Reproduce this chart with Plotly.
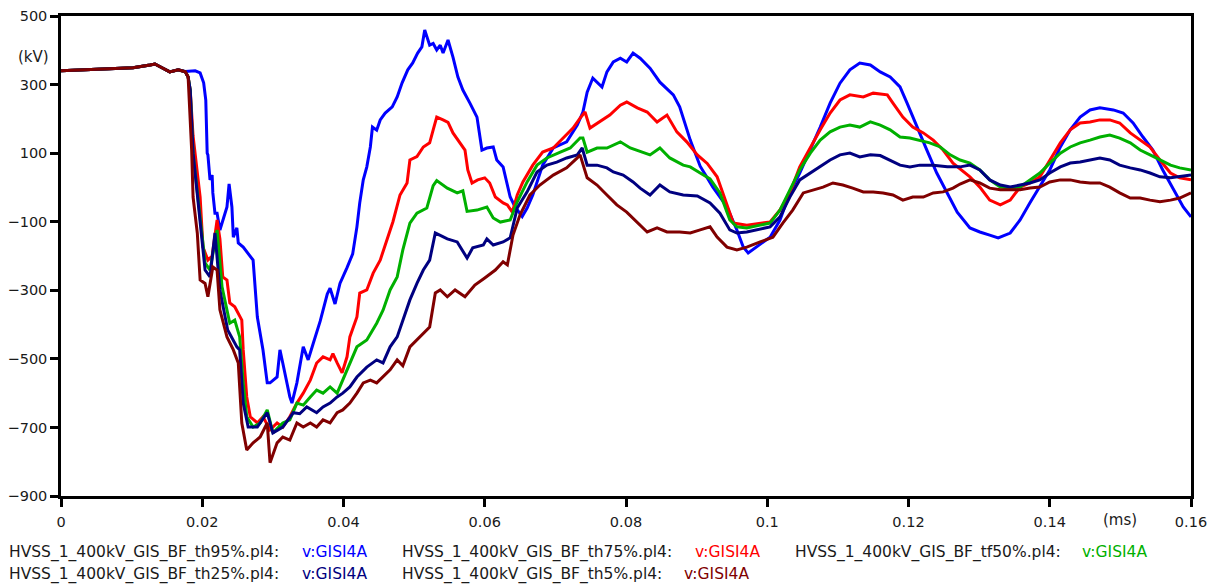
import plotly.graph_objects as go

# ---------------- data (time in ms, voltage in kV) ----------------
t_th95 = [0, 0.0055, 0.0102, 0.0126, 0.0133, 0.0143, 0.0154, 0.0166, 0.0176, 0.0190, 0.0197, 0.0202, 0.0205, 0.0207,
          0.0208, 0.0211, 0.0214, 0.0215, 0.0218, 0.0221, 0.0225, 0.0235, 0.0238, 0.0242, 0.0244, 0.0249, 0.0251,
          0.0258, 0.0268, 0.0272, 0.0278, 0.0286, 0.0292, 0.0296, 0.0306, 0.0310, 0.0314, 0.0320, 0.0324, 0.0327,
          0.0334, 0.0343, 0.0350, 0.0357, 0.0367, 0.0377, 0.0381, 0.0388, 0.0395, 0.0405, 0.0413, 0.0419, 0.0423,
          0.0428, 0.0433, 0.0438, 0.0441, 0.0447, 0.0452, 0.0459, 0.0469, 0.0476, 0.0483, 0.0491, 0.0498, 0.0505,
          0.0511, 0.0515, 0.0522, 0.0527, 0.0532, 0.0537, 0.0541, 0.0548, 0.0555, 0.0562, 0.0569, 0.0579, 0.0589,
          0.0596, 0.0603, 0.0612, 0.0617, 0.0626, 0.0636, 0.0643, 0.0653, 0.0660, 0.0668, 0.0682, 0.0697, 0.0716,
          0.0731, 0.0739, 0.0745, 0.0753, 0.0766, 0.0773, 0.0782, 0.0792, 0.0801, 0.0810, 0.0820, 0.0834, 0.0848,
          0.0867, 0.0876, 0.0891, 0.0905, 0.0923, 0.0943, 0.0957, 0.0966, 0.0973, 0.0985, 0.1004, 0.1018, 0.1032,
          0.1046, 0.1061, 0.1075, 0.1089, 0.1103, 0.1117, 0.1131, 0.1146, 0.1160, 0.1174, 0.1188, 0.1198, 0.1212,
          0.1226, 0.1240, 0.1255, 0.1269, 0.1287, 0.1301, 0.1315, 0.1327, 0.1344, 0.1358, 0.1372, 0.1386, 0.1400,
          0.1415, 0.1429, 0.1443, 0.1457, 0.1471, 0.1490, 0.1504, 0.1518, 0.1532, 0.1546, 0.1560, 0.1575, 0.1589,
          0.1600]
v_th95 = [340, 345, 349, 357, 360, 349, 337, 343, 338, 340, 334, 305, 255, 100,
          95, 22, 36, -16, -75, -75, -124, -57, 10, -57, -145, -118, -162,
          -174, -203, -212, -378, -474, -570, -570, -553, -474, -512, -570, -611, -629,
          -570, -465, -503, -456, -390, -311, -294, -340, -280, -234, -194, -115, -45,
          22, 60, 118, 176, 167, 197, 217, 235, 264, 305, 343, 363, 392,
          410, 459, 415, 420, 401, 415, 392, 430, 380, 322, 284, 246, 205,
          109, 115, 118, 80, 60, -28, -57, -85, -60, -22, 65, 115, 133,
          182, 220, 278, 319, 293, 337, 366, 377, 366, 392, 377, 348, 307,
          270, 235, 138, 62, 1, -57, -124, -174, -191, -174, -145, -95, -16,
          42, 109, 176, 246, 304, 343, 363, 357, 337, 322, 293, 246, 176,
          109, 42, -16, -72, -118, -130, -139, -147, -133, -95, -45, 1, 51,
          118, 168, 205, 226, 232, 226, 217, 188, 147, 109, 51, -7, -57,
          -86]

t_th75 = [0, 0.0055, 0.0102, 0.0126, 0.0133, 0.0143, 0.0154, 0.0166, 0.0176, 0.0180, 0.0183, 0.0187, 0.0193, 0.0197,
          0.0201, 0.0208, 0.0214, 0.0221, 0.0225, 0.0229, 0.0235, 0.0239, 0.0246, 0.0251, 0.0256, 0.0258, 0.0263,
          0.0268, 0.0278, 0.0286, 0.0296, 0.0306, 0.0314, 0.0324, 0.0334, 0.0343, 0.0353, 0.0362, 0.0371, 0.0381,
          0.0385, 0.0391, 0.0398, 0.0405, 0.0409, 0.0419, 0.0423, 0.0433, 0.0442, 0.0452, 0.0462, 0.0470, 0.0480,
          0.0490, 0.0494, 0.0504, 0.0513, 0.0522, 0.0527, 0.0532, 0.0541, 0.0548, 0.0555, 0.0565, 0.0572, 0.0576,
          0.0582, 0.0590, 0.0600, 0.0607, 0.0615, 0.0626, 0.0632, 0.0639, 0.0646, 0.0654, 0.0668, 0.0682, 0.0697,
          0.0711, 0.0725, 0.0735, 0.0742, 0.0749, 0.0763, 0.0777, 0.0792, 0.0801, 0.0816, 0.0830, 0.0844, 0.0858,
          0.0872, 0.0886, 0.0901, 0.0915, 0.0929, 0.0937, 0.0952, 0.0971, 0.0990, 0.1004, 0.1018, 0.1032, 0.1046,
          0.1061, 0.1075, 0.1089, 0.1103, 0.1117, 0.1136, 0.1150, 0.1170, 0.1178, 0.1192, 0.1206, 0.1221, 0.1235,
          0.1249, 0.1263, 0.1287, 0.1301, 0.1315, 0.1330, 0.1344, 0.1358, 0.1372, 0.1386, 0.1400, 0.1415, 0.1429,
          0.1443, 0.1457, 0.1471, 0.1485, 0.1499, 0.1514, 0.1528, 0.1542, 0.1556, 0.1571, 0.1584, 0.1600]
v_th75 = [340, 345, 349, 357, 360, 349, 337, 343, 337, 322, 284, 150, 51, -28,
          -174, -212, -200, -95, -150, -261, -270, -337, -348, -366, -387, -474, -611,
          -669, -687, -669, -707, -687, -699, -669, -629, -600, -562, -512, -494, -503,
          -485, -512, -541, -494, -436, -378, -308, -299, -250, -212, -153, -100, -22,
          13, 80, 90, 118, 130, 168, 205, 197, 190, 159, 130, 109, 51,
          13, 22, 28, 13, -28, -45, -51, -72, -22, 16, 65, 103, 115,
          144, 173, 202, 220, 173, 191, 211, 240, 249, 232, 220, 191, 211,
          162, 133, 95, 70, 31, -16, -104, -110, -104, -101, -66, -16, 60,
          118, 168, 217, 255, 270, 264, 275, 270, 246, 205, 176, 159, 138,
          109, 71, 31, 1, -37, -51, -37, 1, 13, 31, 80, 130, 168,
          188, 191, 197, 197, 188, 159, 138, 118, 80, 42, 28, 22]

t_tf50 = [0, 0.0055, 0.0102, 0.0126, 0.0133, 0.0143, 0.0154, 0.0166, 0.0176, 0.0180, 0.0183, 0.0187, 0.0190, 0.0194,
          0.0204, 0.0211, 0.0221, 0.0228, 0.0239, 0.0246, 0.0253, 0.0258, 0.0263, 0.0272, 0.0282, 0.0292, 0.0300,
          0.0314, 0.0324, 0.0334, 0.0343, 0.0353, 0.0362, 0.0371, 0.0381, 0.0391, 0.0399, 0.0409, 0.0419, 0.0433,
          0.0447, 0.0456, 0.0466, 0.0476, 0.0484, 0.0494, 0.0504, 0.0518, 0.0527, 0.0532, 0.0547, 0.0561, 0.0569,
          0.0575, 0.0589, 0.0603, 0.0612, 0.0622, 0.0636, 0.0646, 0.0660, 0.0674, 0.0688, 0.0707, 0.0721, 0.0735,
          0.0739, 0.0745, 0.0759, 0.0773, 0.0782, 0.0792, 0.0806, 0.0820, 0.0834, 0.0848, 0.0862, 0.0881, 0.0891,
          0.0905, 0.0919, 0.0933, 0.0947, 0.0957, 0.0971, 0.0990, 0.1004, 0.1018, 0.1032, 0.1046, 0.1061, 0.1075,
          0.1089, 0.1103, 0.1117, 0.1131, 0.1146, 0.1160, 0.1174, 0.1188, 0.1202, 0.1216, 0.1230, 0.1245, 0.1259,
          0.1273, 0.1287, 0.1301, 0.1315, 0.1330, 0.1344, 0.1358, 0.1372, 0.1386, 0.1400, 0.1415, 0.1429, 0.1443,
          0.1457, 0.1471, 0.1485, 0.1499, 0.1514, 0.1528, 0.1542, 0.1556, 0.1571, 0.1584, 0.1600]
v_tf50 = [340, 345, 349, 357, 360, 349, 337, 343, 337, 322, 284, 100, 42, -28,
          -220, -241, -124, -290, -396, -387, -436, -570, -669, -699, -687, -649, -716,
          -687, -678, -629, -635, -611, -591, -600, -582, -600, -562, -512, -465, -445,
          -396, -358, -299, -261, -182, -104, -75, -60, 5, 20, -2, -16, -10,
          -70, -66, -57, -89, -101, -95, -42, 16, 65, 86, 103, 115, 144,
          144, 103, 115, 115, 124, 133, 115, 105, 95, 115, 86, 65, 60,
          42, 25, -16, -95, -115, -118, -110, -104, -66, -7, 51, 100, 138,
          162, 176, 182, 176, 191, 182, 168, 147, 144, 138, 130, 118, 95,
          80, 71, 51, 22, 1, -2, 1, 22, 42, 71, 100, 118, 130,
          138, 147, 153, 144, 130, 109, 95, 80, 65, 57, 51]

t_th25 = [0, 0.0055, 0.0102, 0.0126, 0.0133, 0.0143, 0.0154, 0.0166, 0.0176, 0.0180, 0.0183, 0.0187, 0.0193, 0.0204,
          0.0211, 0.0218, 0.0225, 0.0236, 0.0249, 0.0253, 0.0258, 0.0265, 0.0278, 0.0292, 0.0300, 0.0314, 0.0329,
          0.0338, 0.0348, 0.0362, 0.0371, 0.0381, 0.0391, 0.0399, 0.0409, 0.0419, 0.0433, 0.0447, 0.0456, 0.0466,
          0.0476, 0.0484, 0.0494, 0.0504, 0.0513, 0.0522, 0.0530, 0.0537, 0.0547, 0.0561, 0.0575, 0.0583, 0.0598,
          0.0603, 0.0612, 0.0626, 0.0636, 0.0646, 0.0660, 0.0674, 0.0688, 0.0702, 0.0716, 0.0731, 0.0738, 0.0745,
          0.0759, 0.0773, 0.0782, 0.0796, 0.0810, 0.0820, 0.0834, 0.0848, 0.0862, 0.0881, 0.0901, 0.0919, 0.0933,
          0.0947, 0.0957, 0.0971, 0.0985, 0.1004, 0.1018, 0.1032, 0.1046, 0.1061, 0.1075, 0.1089, 0.1103, 0.1117,
          0.1131, 0.1146, 0.1160, 0.1174, 0.1188, 0.1202, 0.1216, 0.1235, 0.1255, 0.1273, 0.1287, 0.1301, 0.1315,
          0.1330, 0.1344, 0.1358, 0.1372, 0.1386, 0.1400, 0.1415, 0.1429, 0.1443, 0.1457, 0.1471, 0.1485, 0.1499,
          0.1514, 0.1528, 0.1542, 0.1556, 0.1571, 0.1584, 0.1600]
v_th25 = [340, 345, 349, 357, 360, 349, 337, 343, 337, 322, 284, 100, -15, -241,
          -261, -133, -299, -416, -465, -474, -629, -699, -699, -657, -716, -699, -657,
          -660, -640, -657, -640, -629, -611, -600, -582, -553, -524, -503, -512, -465,
          -436, -387, -328, -280, -241, -212, -133, -140, -150, -159, -206, -176, -168,
          -150, -168, -159, -147, -60, -13, 45, 65, 74, 86, 95, 115, 65,
          65, 57, 45, 36, 16, -2, -22, 7, -13, -22, -25, -45, -75,
          -124, -133, -130, -124, -115, -86, -28, 22, 42, 60, 80, 95, 100,
          89, 95, 93, 80, 65, 60, 65, 65, 60, 60, 65, 51, 22,
          7, 1, 7, 13, 22, 42, 60, 71, 74, 80, 86, 80, 65,
          57, 51, 42, 31, 28, 31, 36]

t_th5 = [0, 0.0055, 0.0102, 0.0126, 0.0133, 0.0143, 0.0154, 0.0166, 0.0176, 0.0180, 0.0183, 0.0185, 0.0187, 0.0193,
         0.0197, 0.0204, 0.0208, 0.0215, 0.0221, 0.0225, 0.0235, 0.0244, 0.0251, 0.0256, 0.0263, 0.0272, 0.0282,
         0.0292, 0.0296, 0.0306, 0.0314, 0.0324, 0.0334, 0.0343, 0.0353, 0.0362, 0.0371, 0.0381, 0.0391, 0.0399,
         0.0409, 0.0419, 0.0428, 0.0438, 0.0447, 0.0456, 0.0466, 0.0476, 0.0484, 0.0494, 0.0504, 0.0513, 0.0522,
         0.0530, 0.0537, 0.0547, 0.0558, 0.0572, 0.0586, 0.0600, 0.0615, 0.0626, 0.0632, 0.0640, 0.0650, 0.0664,
         0.0678, 0.0697, 0.0716, 0.0731, 0.0735, 0.0745, 0.0759, 0.0773, 0.0787, 0.0801, 0.0816, 0.0830, 0.0844,
         0.0858, 0.0876, 0.0891, 0.0905, 0.0919, 0.0929, 0.0943, 0.0957, 0.0971, 0.0990, 0.1008, 0.1022, 0.1036,
         0.1051, 0.1065, 0.1079, 0.1093, 0.1107, 0.1121, 0.1136, 0.1150, 0.1164, 0.1178, 0.1192, 0.1206, 0.1221,
         0.1235, 0.1249, 0.1263, 0.1273, 0.1287, 0.1301, 0.1315, 0.1330, 0.1344, 0.1358, 0.1372, 0.1386, 0.1400,
         0.1415, 0.1429, 0.1443, 0.1457, 0.1471, 0.1485, 0.1499, 0.1514, 0.1528, 0.1542, 0.1556, 0.1571, 0.1584,
         0.1600]
v_th5 = [340, 345, 349, 357, 360, 349, 337, 343, 337, 322, 200, 109, -28, -133,
         -270, -280, -319, -232, -241, -357, -436, -474, -512, -687, -766, -745, -728,
         -687, -803, -745, -728, -737, -687, -699, -687, -699, -678, -687, -657, -649,
         -629, -600, -570, -562, -570, -553, -532, -503, -520, -465, -445, -425, -407,
         -308, -299, -319, -299, -319, -285, -264, -241, -217, -226, -139, -80, -22,
         7, 36, 57, 86, 95, 28, 7, -22, -51, -72, -101, -130, -118,
         -130, -130, -133, -124, -115, -145, -174, -182, -174, -159, -145, -104, -66,
         -16, -7, 1, 13, 7, -2, -13, -13, -16, -22, -37, -28, -28,
         -16, -13, -2, 10, 22, 13, -2, -7, -7, -7, -2, 1, 16,
         22, 22, 16, 13, 13, 1, -16, -31, -31, -37, -42, -37, -31,
         -16]

series_files = ["HVSS_1_400kV_GIS_BF_th95%.pl4:", "HVSS_1_400kV_GIS_BF_th75%.pl4:",
                "HVSS_1_400kV_GIS_BF_tf50%.pl4:", "HVSS_1_400kV_GIS_BF_th25%.pl4:",
                "HVSS_1_400kV_GIS_BF_th5%.pl4:"]
series_var = "v:GISI4A"
series_t = [t_th95, t_th75, t_tf50, t_th25, t_th5]
series_v = [v_th95, v_th75, v_tf50, v_th25, v_th5]
colors = ["#0000FF", "#FF0000", "#00B000", "#000080", "#800000"]

x_ticks = [0, 0.02, 0.04, 0.06, 0.08, 0.1, 0.12, 0.14, 0.16]
x_tick_text = ["0", "0.02", "0.04", "0.06", "0.08", "0.1", "0.12", "0.14", "0.16"]
y_ticks = [-900, -700, -500, -300, -100, 100, 300, 500]

FONT = "DejaVu Sans"
TXT = "#1a1a1a"

fig = go.Figure()
for name, tt, vv, c in zip(series_files, series_t, series_v, colors):
    fig.add_trace(go.Scatter(x=tt, y=vv, mode="lines", name=name,
                             line=dict(color=c, width=3), showlegend=False))

W, H = 1213, 584
ml, mr, mt, mb = 61, 22, 16, 88
PW, PH = W - ml - mr, H - mt - mb


def px_to_paper_x(px):
    return (px - ml) / PW


def px_to_paper_y(py):
    return (H - mb - py) / PH


annotations = [
    dict(text="(kV)", x=px_to_paper_x(33), y=px_to_paper_y(57), xref="paper", yref="paper",
         xanchor="center", yanchor="middle", showarrow=False,
         font=dict(family=FONT, size=15, color=TXT)),
    dict(text="(ms)", x=px_to_paper_x(1120), y=px_to_paper_y(520), xref="paper", yref="paper",
         xanchor="center", yanchor="middle", showarrow=False,
         font=dict(family=FONT, size=15, color=TXT)),
]

# legend rows laid out as in the original (file name in black, variable in colour)
leg_name_x = [7, 400, 793, 7, 400]
leg_var_x = [300, 693, 1080, 300, 682]
leg_y = [552, 552, 552, 574, 574]
for name, c, nx, vx, yy in zip(series_files, colors, leg_name_x, leg_var_x, leg_y):
    annotations.append(dict(text=name, x=px_to_paper_x(nx), y=px_to_paper_y(yy), xref="paper", yref="paper",
                            xanchor="left", yanchor="middle", showarrow=False,
                            font=dict(family=FONT, size=15.5, color=TXT)))
    annotations.append(dict(text=series_var, x=px_to_paper_x(vx), y=px_to_paper_y(yy), xref="paper", yref="paper",
                            xanchor="left", yanchor="middle", showarrow=False,
                            font=dict(family=FONT, size=15.5, color=c)))

fig.update_layout(
    width=W, height=H,
    margin=dict(l=ml, r=mr, t=mt, b=mb, pad=0, autoexpand=False),
    paper_bgcolor="white", plot_bgcolor="white",
    showlegend=False,
    annotations=annotations,
    xaxis=dict(range=[0, 0.16], tickvals=x_ticks, ticktext=x_tick_text, automargin=False,
               showgrid=False, zeroline=False, showline=True, linecolor="black", linewidth=2.5,
               mirror=True, ticks="outside", ticklen=8, tickwidth=2.5, tickcolor="black",
               ticklabelstandoff=3,
               tickfont=dict(family=FONT, size=14.5, color=TXT)),
    yaxis=dict(range=[-900, 500], tickvals=y_ticks, automargin=False,
               showgrid=False, zeroline=False, showline=True, linecolor="black", linewidth=2.5,
               mirror=True, ticks="outside", ticklen=8, tickwidth=2.5, tickcolor="black",
               ticklabelstandoff=0,
               tickfont=dict(family=FONT, size=14.5, color=TXT)),
)

fig.write_html("out.html")
